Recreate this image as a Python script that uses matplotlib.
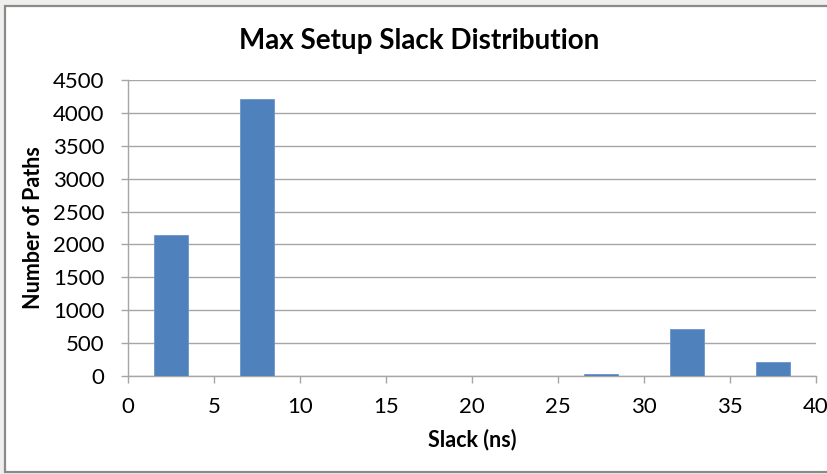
import matplotlib
matplotlib.use("Agg")
import matplotlib.pyplot as plt
from matplotlib.patches import Rectangle

plt.rcParams['font.family'] = ['Lato', 'DejaVu Sans']

# Histogram of setup slack (bin centers in ns, counts per bin)
bin_centers = [2.5, 7.5, 12.5, 17.5, 22.5, 27.5, 32.5, 37.5]
path_counts = [2140, 4215, 0, 0, 0, 35, 715, 220]
x_ticks = [0, 5, 10, 15, 20, 25, 30, 35, 40]
y_ticks = [0, 500, 1000, 1500, 2000, 2500, 3000, 3500, 4000, 4500]

W, H = 828, 474
fig = plt.figure(figsize=(W / 100, H / 100), dpi=100, facecolor='#efefed')

# white chart panel with gray frame
panel = Rectangle((5 / W, 1 - 472 / H), (W + 10 - 5) / W, (472 - 6) / H,
                  transform=fig.transFigure, facecolor='white',
                  edgecolor='#8a8a8a', linewidth=1.6, zorder=0)
fig.patches.append(panel)

ax_left, ax_right, ax_top, ax_bottom = 128, 816, 80, 376
ax = fig.add_axes([ax_left / W, 1 - ax_bottom / H,
                   (ax_right - ax_left) / W, (ax_bottom - ax_top) / H])
ax.set_zorder(2)
ax.set_facecolor('none')

ax.bar(bin_centers, path_counts, width=2.0, color='#4f81bd',
       edgecolor='#6b95c8', linewidth=0.6, zorder=3)

ax.set_xlim(0, 40)
ax.set_ylim(0, 4500)
ax.set_xticks(x_ticks)
ax.set_yticks(y_ticks)

ax.yaxis.grid(True, color='#a6a6a6', linewidth=1.0, zorder=0)
ax.set_axisbelow(True)

for side in ('top', 'right'):
    ax.spines[side].set_visible(False)
for side in ('left', 'bottom'):
    ax.spines[side].set_color('#a6a6a6')
    ax.spines[side].set_linewidth(1.0)

ax.tick_params(axis='both', colors='#a6a6a6', labelcolor='black',
               labelsize=16, length=5, width=1.0, direction='out')
ax.tick_params(axis='x', pad=10)
ax.tick_params(axis='y', pad=12)

ax.set_xlabel('Slack (ns)', fontsize=15.5, fontweight='bold', va='center')
ax.set_ylabel('Number of Paths', fontsize=15.5, fontweight='bold', va='center')
ax_w, ax_h = ax_right - ax_left, ax_bottom - ax_top
ax.xaxis.set_label_coords((472 - ax_left) / ax_w, (ax_bottom - 440) / ax_h)
ax.yaxis.set_label_coords((34 - ax_left) / ax_w, (ax_bottom - 228) / ax_h)

fig.text(419 / W, 1 - 41 / H, 'Max Setup Slack Distribution',
         ha='center', va='center', fontsize=20, fontweight='bold', zorder=3)

fig.savefig('out.png', dpi=100, facecolor=fig.get_facecolor())
